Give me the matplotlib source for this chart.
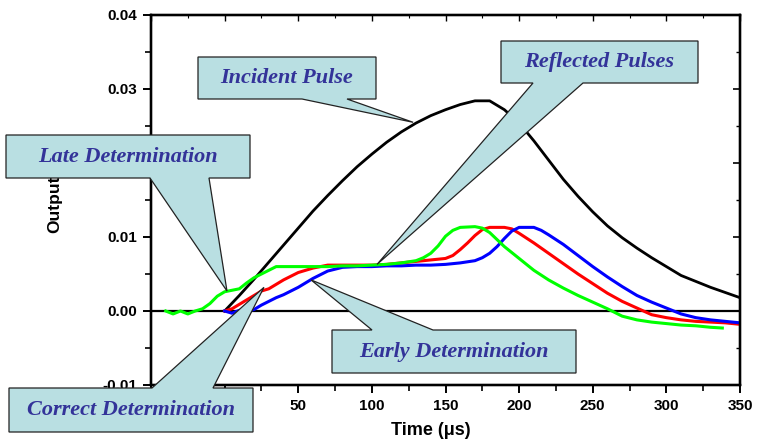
import matplotlib
matplotlib.use("Agg")
import matplotlib.pyplot as plt
from matplotlib.patches import Polygon
from matplotlib.ticker import MultipleLocator

# ---------------- data ----------------
t_incident = [0, 10, 20, 30, 40, 50, 60, 70, 80, 90, 100, 110, 120, 130, 140, 150, 160, 170,
              180, 190, 200, 210, 220, 230, 240, 250, 260, 270, 280, 290, 300, 310, 320, 330, 340, 350]
v_incident = [0.0, 0.0021, 0.0043, 0.0066, 0.0089, 0.0112, 0.0135, 0.0156, 0.0176, 0.0195, 0.0212,
              0.0228, 0.0242, 0.0254, 0.0264, 0.0272, 0.0279, 0.0284, 0.0284, 0.0272, 0.0254, 0.0230,
              0.0204, 0.0178, 0.0155, 0.0134, 0.0115, 0.0099, 0.0085, 0.0072, 0.0060, 0.0048, 0.0040,
              0.0032, 0.0025, 0.0018]

t_green = [-40, -35, -30, -25, -20, -15, -10, -5, 0, 5, 10, 15, 20, 25, 30, 35, 40, 50, 60, 70, 80,
           90, 100, 110, 120, 130, 135, 140, 145, 150, 155, 160, 170, 175, 180, 190, 200, 210, 220,
           230, 240, 250, 260, 270, 280, 290, 300, 310, 320, 330, 338]
v_green = [0.0, -0.0004, 0.0, -0.0004, 0.0, 0.0003, 0.0010, 0.0020, 0.0026, 0.0028, 0.0030, 0.0038,
           0.0045, 0.0050, 0.0055, 0.0060, 0.0060, 0.0060, 0.0060, 0.0060, 0.0061, 0.0061, 0.0062,
           0.0063, 0.0065, 0.0068, 0.0072, 0.0078, 0.0088, 0.0101, 0.0109, 0.0113, 0.0114, 0.0112,
           0.0106, 0.0087, 0.0071, 0.0055, 0.0042, 0.0031, 0.0021, 0.0012, 0.0003, -0.0007, -0.0012,
           -0.0015, -0.0017, -0.0019, -0.0020, -0.0022, -0.0023]

t_red = [0, 5, 10, 15, 20, 25, 30, 40, 50, 60, 70, 80, 90, 100, 110, 120, 130, 140, 150, 155, 160,
         165, 170, 175, 180, 190, 195, 200, 210, 220, 230, 240, 250, 260, 270, 280, 290, 300, 310,
         320, 330, 340, 350]
v_red = [0.0, 0.0003, 0.0009, 0.0015, 0.0021, 0.0027, 0.0030, 0.0042, 0.0052, 0.0058, 0.0062, 0.0062,
         0.0062, 0.0062, 0.0063, 0.0065, 0.0067, 0.0069, 0.0071, 0.0075, 0.0083, 0.0092, 0.0102,
         0.0110, 0.0113, 0.0113, 0.0111, 0.0105, 0.0092, 0.0078, 0.0064, 0.0050, 0.0037, 0.0024,
         0.0013, 0.0004, -0.0005, -0.0009, -0.0012, -0.0014, -0.0015, -0.0016, -0.0018]

t_blue = [0, 5, 10, 15, 20, 25, 30, 35, 40, 50, 60, 70, 80, 90, 100, 110, 120, 130, 140, 150, 160,
          170, 175, 180, 185, 190, 195, 200, 210, 215, 220, 230, 240, 250, 260, 270, 280, 290, 300,
          310, 320, 330, 340, 350]
v_blue = [0.0, -0.0003, 0.0001, 0.0, 0.0002, 0.0008, 0.0013, 0.0018, 0.0022, 0.0032, 0.0044, 0.0054,
          0.0059, 0.0060, 0.0060, 0.0061, 0.0061, 0.0062, 0.0062, 0.0063, 0.0065, 0.0068, 0.0072,
          0.0078, 0.0087, 0.0098, 0.0108, 0.0113, 0.0113, 0.0109, 0.0103, 0.0090, 0.0075, 0.0060,
          0.0046, 0.0033, 0.0021, 0.0012, 0.0004, -0.0004, -0.0009, -0.0012, -0.0014, -0.0016]

x_ticks = [-50, 0, 50, 100, 150, 200, 250, 300, 350]
# labels hidden behind the callout boxes in the reference are left blank
x_tick_labels = ["", "", "50", "100", "150", "200", "250", "300", "350"]
y_ticks = [-0.01, 0.00, 0.01, 0.02, 0.03, 0.04]
y_tick_labels = ["-0.01", "0.00", "0.01", "", "0.03", "0.04"]
x_label = "Time (\u03bcs)"
y_label = "Output"

callout_texts = ["Incident Pulse", "Reflected Pulses", "Late Determination",
                 "Early Determination", "Correct Determination"]
# anchor point (data coords) of each callout pointer
callout_tips = [(128, 0.0255), (103.5, 0.0063), (1.6, 0.0027), (58.7, 0.0042), (26.7, 0.0032)]

# ---------------- figure ----------------
W, H = 758, 443
fig = plt.figure(figsize=(W / 100, H / 100), dpi=100)
ax = fig.add_axes([151 / W, 1 - 385 / H, (740 - 151) / W, (385 - 15) / H])

ax.set_xlim(-50, 350)
ax.set_ylim(-0.01, 0.04)

ax.axhline(0, color="black", lw=1.6, zorder=1)
ax.plot(t_incident, v_incident, color="black", lw=2.0, zorder=3)
ax.plot(t_red, v_red, color="#ff0000", lw=2.2, zorder=3)
ax.plot(t_blue, v_blue, color="#0000ff", lw=2.2, zorder=3)
ax.plot(t_green, v_green, color="#00ff00", lw=2.2, zorder=3)

ax.set_xticks(x_ticks)
ax.set_xticklabels(x_tick_labels)
ax.set_yticks(y_ticks)
ax.set_yticklabels(y_tick_labels)
ax.xaxis.set_minor_locator(MultipleLocator(25))
ax.yaxis.set_minor_locator(MultipleLocator(0.005))
for lab in ax.get_xticklabels() + ax.get_yticklabels():
    lab.set_fontfamily("Liberation Sans")
    lab.set_fontweight("bold")
    lab.set_fontsize(11)

for s in ax.spines.values():
    s.set_linewidth(1.6)
ax.tick_params(which="major", direction="out", length=6, width=1.4, pad=4)
ax.tick_params(which="minor", direction="out", length=4, width=1.2)

# inward ticks on the right and top spines
ax2 = ax.twinx()
ax2.set_ylim(ax.get_ylim())
ax2.set_yticks(y_ticks)
ax2.yaxis.set_minor_locator(MultipleLocator(0.005))
ax2.tick_params(which="major", direction="in", length=5, width=1.2, labelright=False)
ax2.tick_params(which="minor", direction="in", length=3, width=1.0)
ax3 = ax.twiny()
ax3.set_xlim(ax.get_xlim())
ax3.set_xticks(x_ticks)
ax3.xaxis.set_minor_locator(MultipleLocator(25))
ax3.tick_params(which="major", direction="in", length=4, width=1.0, labeltop=False)
ax3.tick_params(which="minor", direction="in", length=2, width=0.8)
for a in (ax2, ax3):
    a.patch.set_visible(False)
    for s in a.spines.values():
        s.set_linewidth(1.6)

ax.set_xlabel(x_label, fontfamily="Liberation Sans", fontsize=13, fontweight="bold")
ax.xaxis.set_label_coords((431 - 151) / 589, -(422 - 385) / 370)
ax.yaxis.label.set_visible(False)
fig.text(55 / W, 1 - 233 / H, y_label, rotation=90, ha="center", va="bottom",
         fontfamily="Liberation Sans", fontsize=12.5, fontweight="bold")

# ---------------- callouts ----------------
fig.canvas.draw()
to_fig = fig.transFigure.inverted()


def px(x, y):
    return (x / W, 1 - y / H)


def tip_fig(tx, ty):
    return tuple(to_fig.transform(ax.transData.transform((tx, ty))))


fill = "#b9dfe2"
text_color = "#333399"

# (box left, top, right, bottom in pixels), side of pointer, pointer base x0, x1
boxes = [
    ((198, 57, 376, 99), "bottom", 302, 347),
    ((501, 41, 698, 83), "bottom", 533, 583),
    ((6, 135, 250, 178), "bottom", 150, 209),
    ((332, 330, 576, 373), "top", 372, 433),
    ((9, 388, 253, 432), "top", 152, 213),
]

for (box, side, b0, b1), text, tip in zip(boxes, callout_texts, callout_tips):
    l, tp, r, b = box
    tf = tip_fig(*tip)
    if side == "bottom":
        verts = [px(l, tp), px(r, tp), px(r, b), px(b1, b), tf, px(b0, b), px(l, b)]
    else:
        verts = [px(l, tp), px(b0, tp), tf, px(b1, tp), px(r, tp), px(r, b), px(l, b)]
    poly = Polygon(verts, closed=True, transform=fig.transFigure, facecolor=fill,
                   edgecolor="#222222", lw=0.9, zorder=10)
    fig.add_artist(poly)
    cx, cy = px((l + r) / 2, (tp + b) / 2)
    fig.text(cx, cy, text, ha="center", va="center", color=text_color,
             fontfamily="Liberation Serif", fontstyle="italic", fontweight="bold",
             fontsize=16, zorder=11)

fig.savefig("out.png", dpi=100)
